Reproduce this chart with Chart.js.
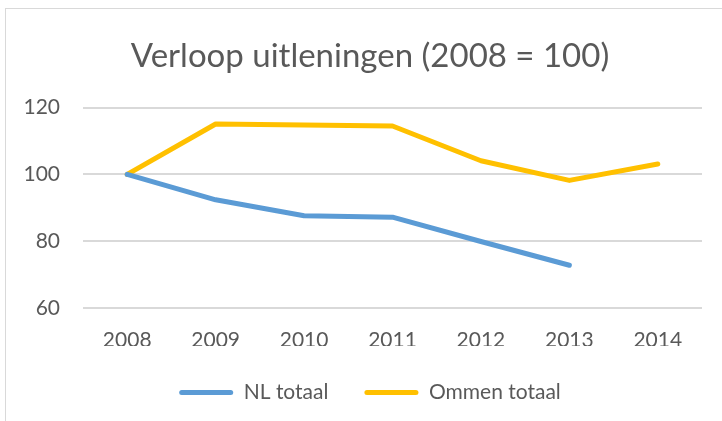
<!DOCTYPE html>
<html>
<head>
<meta charset="utf-8">
<script src="https://cdn.jsdelivr.net/npm/chart.js@4/dist/chart.umd.min.js"></script>
<style>
  html, body { margin: 0; padding: 0; background: #fff; width: 722px; height: 421px; overflow: hidden; }
  #frame { position: absolute; left: 5px; top: 8px; width: 900px; height: 600px; border: 1px solid #d9d9d9; box-sizing: border-box; }
  #wrap { position: absolute; left: 0; top: 0; width: 730px; height: 421px; }
</style>
</head>
<body>
<div id="frame"></div>
<div id="wrap"><canvas id="c" width="730" height="421"></canvas></div>
<script>
const titleText = "Verloop uitleningen (2008 = 100)";
const years = ["2008", "2009", "2010", "2011", "2012", "2013", "2014"];
const nlTotaal = [100, 92.4, 87.6, 87.2, 79.9, 72.8, null];
const ommenTotaal = [100, 115.1, 114.8, 114.5, 104.1, 98.2, 103.1];
const yTicks = [60, 80, 100, 120];

const FONT = "Lato";
const TXT = "#595959";

new Chart(document.getElementById("c"), {
  type: "line",
  data: {
    labels: years,
    datasets: [
      { label: "NL totaal", data: nlTotaal, borderColor: "#5B9BD5", backgroundColor: "#5B9BD5",
        borderWidth: 5, pointRadius: 0, tension: 0, borderCapStyle: "round", borderJoinStyle: "round" },
      { label: "Ommen totaal", data: ommenTotaal, borderColor: "#FFC000", backgroundColor: "#FFC000",
        borderWidth: 5, pointRadius: 0, tension: 0, borderCapStyle: "round", borderJoinStyle: "round" }
    ]
  },
  options: {
    responsive: false,
    animation: false,
    devicePixelRatio: 1,
    layout: { padding: { left: 10, right: 0, top: 0, bottom: 8 } },
    plugins: {
      title: { display: true, text: titleText, color: TXT,
               font: { family: FONT, size: 33, weight: "normal" }, padding: { top: 37, bottom: 31 } },
      legend: { position: "bottom",
        labels: { color: TXT, font: { family: FONT, size: 21 }, boxWidth: 54, boxHeight: 5,
                  useBorderRadius: true, borderRadius: 2.5, padding: 36,
                  generateLabels: (chart) => chart.data.datasets.map((d, i) => ({
                    text: d.label, fillStyle: d.borderColor, strokeStyle: d.borderColor, lineWidth: 0,
                    borderRadius: 2.5, datasetIndex: i, fontColor: TXT })) } },
      tooltip: { enabled: false }
    },
    scales: {
      x: {
        offset: true,
        grid: { display: false, drawTicks: false, offset: true },
        border: { display: false },
        ticks: { color: TXT, font: { family: FONT, size: 21 }, padding: 20, maxRotation: 0 },
        afterFit: (s) => { s.height = 38; }
      },
      y: {
        min: 60, max: 120,
        grid: { color: "#D9D9D9", lineWidth: 2, drawTicks: false },
        border: { display: false },
        afterBuildTicks: (s) => { s.ticks = yTicks.map(v => ({ value: v })); },
        ticks: { color: TXT, font: { family: FONT, size: 21 }, padding: 23 },
        afterFit: (s) => { s.width = 73; }
      },
      yRight: {
        position: "right",
        min: 60, max: 120,
        grid: { display: false, drawTicks: false },
        border: { display: false },
        ticks: { display: false },
        afterFit: (s) => { s.width = 28; }
      }
    }
  }
});
</script>
</body>
</html>
